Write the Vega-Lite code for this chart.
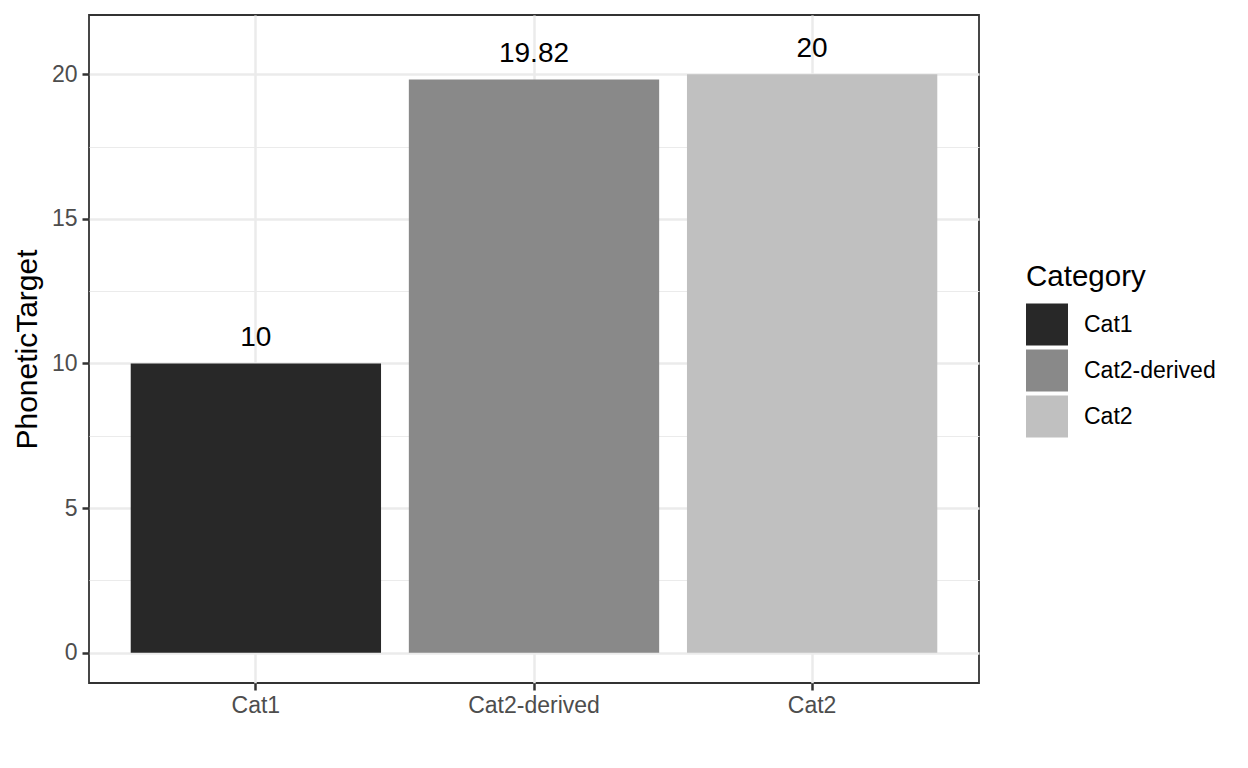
{
  "$schema": "https://vega.github.io/schema/vega-lite/v6.json",
  "width": 890,
  "height": 668,
  "autosize": {"type": "none"},
  "padding": {"left": 89, "top": 15, "right": 269, "bottom": 85},
  "background": "white",
  "config": {
    "font": "Liberation Sans",
    "view": {"stroke": "#333333", "strokeWidth": 1.8}
  },
  "data": {
    "values": [
      {"Category": "Cat1", "PhoneticTarget": 10},
      {"Category": "Cat2-derived", "PhoneticTarget": 19.82},
      {"Category": "Cat2", "PhoneticTarget": 20}
    ]
  },
  "encoding": {
    "x": {
      "field": "Category",
      "type": "nominal",
      "sort": ["Cat1", "Cat2-derived", "Cat2"],
      "scale": {"paddingInner": 0.1, "paddingOuter": 0.15},
      "axis": {
        "title": null,
        "labelAngle": 0,
        "grid": true,
        "gridColor": "#ebebeb",
        "gridWidth": 2.5,
        "domain": false,
        "tickColor": "#333333",
        "tickWidth": 2.5,
        "tickSize": 7,
        "labelFontSize": 23,
        "labelColor": "#4d4d4d",
        "labelPadding": 4,
        "bandPosition": 0.5
      }
    },
    "y": {
      "field": "PhoneticTarget",
      "type": "quantitative",
      "scale": {"domain": [-1.05, 22.05], "nice": false},
      "axis": {
        "title": "PhoneticTarget",
        "values": [0, 2.5, 5, 7.5, 10, 12.5, 15, 17.5, 20],
        "labelExpr": "datum.value % 5 === 0 ? datum.label : ''",
        "grid": true,
        "gridColor": "#ebebeb",
        "gridWidth": {"condition": {"test": "datum.value % 5 === 0", "value": 2.5}, "value": 1.2},
        "tickOpacity": {"condition": {"test": "datum.value % 5 === 0", "value": 1}, "value": 0},
        "domain": false,
        "tickColor": "#333333",
        "tickWidth": 2.5,
        "tickSize": 7,
        "labelFontSize": 23,
        "labelColor": "#4d4d4d",
        "labelPadding": 5,
        "titleFontSize": 30,
        "titleFontWeight": "normal",
        "titleColor": "black",
        "titleX": -53,
        "titleY": 334,
        "titleAngle": -90,
        "titleBaseline": "alphabetic",
        "titleAlign": "center"
      }
    }
  },
  "layer": [
    {
      "mark": {"type": "bar"},
      "encoding": {
        "color": {
          "field": "Category",
          "type": "nominal",
          "scale": {"domain": ["Cat1", "Cat2-derived", "Cat2"], "range": ["#282828", "#898989", "#c0c0c0"]},
          "legend": {
            "orient": "none",
            "legendX": 937,
            "legendY": 248,
            "title": "Category",
            "titleFontSize": 29.5,
            "titleFontWeight": "normal",
            "titleColor": "black",
            "titlePadding": 11,
            "symbolType": "square",
            "symbolSize": 1764,
            "symbolStrokeWidth": 0,
            "symbolOpacity": 1,
            "labelFontSize": 23,
            "labelColor": "black",
            "labelOffset": 16,
            "rowPadding": 4,
            "padding": 0,
            "offset": 0
          }
        }
      }
    },
    {
      "mark": {"type": "text", "dy": -17, "baseline": "alphabetic", "fontSize": 28, "color": "black"},
      "encoding": {
        "text": {"field": "PhoneticTarget", "type": "quantitative", "format": "~g"}
      }
    }
  ]
}
